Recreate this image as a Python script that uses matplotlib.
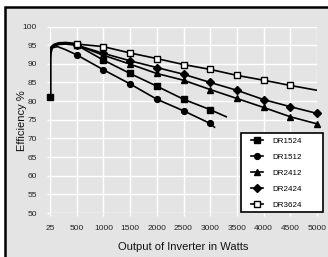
import numpy as np
import matplotlib
matplotlib.use("Agg")
import matplotlib.pyplot as plt
from matplotlib.patches import Rectangle

plt.rcParams['font.family'] = ['Liberation Sans', 'DejaVu Sans']

# eksen etiketleri (kategori gibi esit aralikli)
tick_watts = [25, 500, 1000, 1500, 2000, 2500, 3000, 3500, 4000, 4500, 5000]
watts = [500, 1000, 1500, 2000, 2500, 3000, 3500, 4000, 4500, 5000]

# seriler (500 W'tan itibaren)
dr1524 = [95.0, 91.0, 87.4, 84.0, 80.5, 77.7]
dr1512 = [92.4, 88.4, 84.6, 80.5, 77.4, 74.0]
dr2412 = [95.0, 92.3, 89.9, 87.4, 85.6, 83.1, 80.7, 78.3, 75.8, 73.9]
dr2424 = [95.0, 92.8, 90.8, 89.0, 87.2, 85.0, 82.9, 80.4, 78.5, 76.7]
dr3624 = [95.3, 94.6, 92.9, 91.4, 89.8, 88.5, 86.9, 85.6, 84.2]

# cizgi uzantilari (isaretsiz)
dr1524_tail = (3300, 75.8)
dr1512_tail = (3080, 73.0)
dr3624_tail = (5000, 82.9)

# baslangic egrisi (25 W'ta 81'den yukari)
start_w = [25, 25, 30, 50, 100, 180, 300, 500]
start_eff = [81.0, 91.5, 93.0, 94.3, 95.0, 95.4, 95.5, 95.2]
dr1512_start_w = [25, 25, 60, 160, 300, 500]
dr1512_start_eff = [81.0, 92.3, 94.3, 94.6, 93.8, 92.4]

idx = np.arange(len(tick_watts))


def fwd(x):
    return np.interp(x, tick_watts, idx)


def inv(i):
    return np.interp(i, idx, tick_watts)


fig = plt.figure(figsize=(3.28, 2.57), dpi=100)
fig.patch.set_facecolor("white")
fig.patches.append(Rectangle((5 / 328, -0.1), 1.2, 1 - 7 / 257 + 0.1, transform=fig.transFigure,
                             facecolor="#e4e4e4", edgecolor="black", linewidth=1.8, zorder=-10))

ax = fig.add_axes([50 / 328, 1 - 213 / 257, 267 / 328, 186.5 / 257])
ax.set_zorder(5)
ax.set_facecolor("none")
ax.set_xscale("function", functions=(fwd, inv))

lw = 1.2
ms = 4.2
ax.plot(start_w, start_eff, color="black", lw=2.4, solid_capstyle="butt")
ax.plot(dr1512_start_w, dr1512_start_eff, color="black", lw=lw)
ax.plot([25], [81.0], "s", color="black", ms=ms, clip_on=False)

ax.plot(watts[:len(dr1524)] + [dr1524_tail[0]], dr1524 + [dr1524_tail[1]], color="black", lw=lw,
        marker="s", ms=ms, markevery=list(range(len(dr1524))), label="DR1524")
ax.plot(watts[:len(dr1512)] + [dr1512_tail[0]], dr1512 + [dr1512_tail[1]], color="black", lw=lw,
        marker="o", ms=ms, markevery=list(range(len(dr1512))), label="DR1512")
ax.plot(watts, dr2412, color="black", lw=lw, marker="^", ms=ms + 0.5, label="DR2412", clip_on=False)
ax.plot(watts, dr2424, color="black", lw=lw, marker="D", ms=ms, label="DR2424", clip_on=False)
ax.plot(watts[:len(dr3624)] + [dr3624_tail[0]], dr3624 + [dr3624_tail[1]], color="black", lw=lw,
        marker="s", ms=ms + 0.5, mfc="white", mec="black", mew=1.0,
        markevery=list(range(len(dr3624))), label="DR3624")

ax.set_xlim(25, 5000)
ax.set_ylim(50, 100)
ax.set_xticks(tick_watts)
ax.set_xticklabels([str(t) for t in tick_watts])
ax.set_yticks(range(50, 101, 5))
ax.grid(True, color="white", lw=1.0)
ax.set_axisbelow(True)
for s in ax.spines.values():
    s.set_visible(False)
ax.tick_params(colors="white", labelcolor="#222222", labelsize=6, length=2.5, width=1)
ax.tick_params(axis="x", pad=6)
ax.tick_params(axis="y", pad=7)

fig.text(22 / 328, 1 - 121 / 257, "Efficiency %", rotation=90, ha="center", va="center",
         fontsize=8, color="#111111")
fig.text(183 / 328, 1 - 247 / 257, "Output of Inverter in Watts", ha="center", va="center",
         fontsize=8, color="#111111")

# legend kutusu
ax.add_patch(Rectangle((241 / 328, 1 - 212 / 257), 82 / 328, 79 / 257, transform=fig.transFigure,
                       facecolor="white", edgecolor="black", linewidth=1.2, clip_on=False,
                       zorder=4))
leg = ax.legend(loc="upper left", bbox_to_anchor=(251 / 328, 1 - 137 / 257),
                bbox_transform=fig.transFigure, fontsize=5.8, frameon=False,
                handlelength=1.5, labelspacing=1.05, borderpad=0, handletextpad=1.1,
                borderaxespad=0)
leg.set_zorder(6)

fig.savefig("out.png", dpi=100)
